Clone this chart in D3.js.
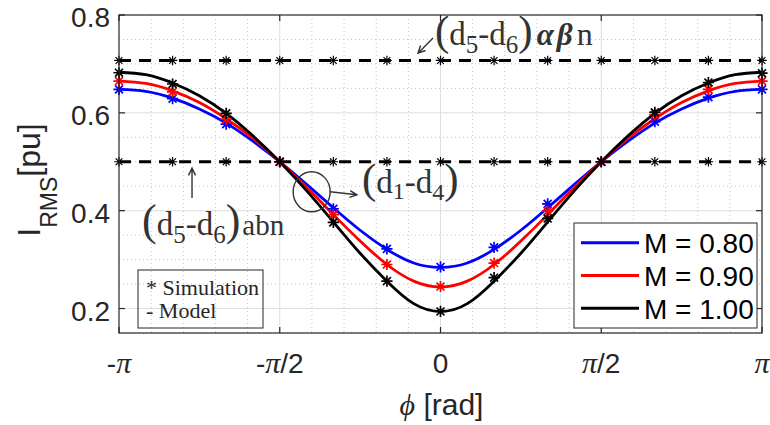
<!DOCTYPE html>
<html>
<head>
<meta charset="utf-8">
<script src="https://cdn.jsdelivr.net/npm/d3@7"></script>
<style>
  body { margin: 0; background: #ffffff; }
  svg { display: block; }
</style>
</head>
<body>
<script>
// ---- data -------------------------------------------------------------
// model curves are sampled every π/12, simulation points every π/6
const modelSteps = [-12,-11,-10,-9,-8,-7,-6,-5,-4,-3,-2,-1,0,1,2,3,4,5,6,7,8,9,10,11,12];   // × π/12
const simSteps   = [-6,-5,-4,-3,-2,-1,0,1,2,3,4,5,6];                                        // × π/6

const seriesNames  = ["M = 0.80", "M = 0.90", "M = 1.00"];
const seriesColors = ["#0000ff", "#ff0000", "#000000"];

const modelM080 = [0.648,0.644,0.630,0.608,0.579,0.542,0.500,0.454,0.406,0.360,0.321,0.293,0.284,
                   0.293,0.321,0.360,0.406,0.454,0.500,0.542,0.579,0.608,0.630,0.644,0.648];
const modelM090 = [0.665,0.660,0.645,0.621,0.588,0.548,0.500,0.448,0.392,0.338,0.290,0.256,0.244,
                   0.256,0.290,0.338,0.392,0.448,0.500,0.548,0.588,0.621,0.645,0.660,0.665];
const modelM100 = [0.683,0.678,0.661,0.635,0.599,0.553,0.500,0.441,0.377,0.313,0.256,0.210,0.194,
                   0.210,0.256,0.313,0.377,0.441,0.500,0.553,0.599,0.635,0.661,0.678,0.683];

const simM080 = [0.648,0.629,0.577,0.500,0.404,0.322,0.285,0.325,0.414,0.500,0.582,0.632,0.648];
const simM090 = [0.665,0.643,0.587,0.500,0.392,0.290,0.245,0.293,0.399,0.500,0.596,0.648,0.665];
const simM100 = [0.682,0.659,0.599,0.500,0.376,0.256,0.194,0.263,0.384,0.500,0.601,0.662,0.681];

// reference levels of the faulty-leg cases (dashed)
const refLevels = [0.7071, 0.5];

const yTicks      = [0.2, 0.4, 0.6, 0.8];
const xTickSteps  = [-2, -1, 0, 1, 2];            // × π/2
const xTickLabels = ["-π", "-π/2", "0", "π/2", "π"];

const modelSeries = [modelM080, modelM090, modelM100];
const simSeries   = [simM080, simM090, simM100];

// ---- layout -------------------------------------------------------------
const W = 770, H = 425;
const plot = { left: 119, top: 15, right: 762, bottom: 333 };
const SANS = "'Liberation Sans', Arial, Helvetica, sans-serif";
const SERIF = "'Liberation Serif', 'Times New Roman', serif";
const AXIS = "#262626";

const x = d3.scaleLinear().domain([-Math.PI, Math.PI]).range([plot.left, plot.right]);
const y = d3.scaleLinear().domain([0.15, 0.8]).range([plot.bottom, plot.top]);

const svg = d3.select("body").append("svg")
  .attr("width", W).attr("height", H)
  .attr("viewBox", `0 0 ${W} ${H}`);

// ---- grid -------------------------------------------------------------
const grid = svg.append("g");
const minorX = d3.range(-10, 11).filter(k => k % 5 !== 0).map(k => k * Math.PI / 10);
const minorY = d3.range(0.15, 0.8001, 0.05).filter(v => Math.abs(v * 5 - Math.round(v * 5)) > 1e-6);
const majorX = xTickSteps.map(k => k * Math.PI / 2).filter(v => Math.abs(v) < Math.PI - 1e-6);
const majorY = yTicks.filter(v => v < 0.8 - 1e-6);

grid.selectAll(".mx").data(minorX).join("line")
  .attr("x1", d => x(d)).attr("x2", d => x(d))
  .attr("y1", plot.top).attr("y2", plot.bottom)
  .attr("stroke", "#c4c4c4").attr("stroke-width", 1).attr("stroke-dasharray", "1,3");
grid.selectAll(".my").data(minorY).join("line")
  .attr("x1", plot.left).attr("x2", plot.right)
  .attr("y1", d => y(d)).attr("y2", d => y(d))
  .attr("stroke", "#c4c4c4").attr("stroke-width", 1).attr("stroke-dasharray", "1,3");
grid.selectAll(".gx").data(majorX).join("line")
  .attr("x1", d => x(d)).attr("x2", d => x(d))
  .attr("y1", plot.top).attr("y2", plot.bottom)
  .attr("stroke", "#dedede").attr("stroke-width", 1);
grid.selectAll(".gy").data(majorY).join("line")
  .attr("x1", plot.left).attr("x2", plot.right)
  .attr("y1", d => y(d)).attr("y2", d => y(d))
  .attr("stroke", "#dedede").attr("stroke-width", 1);

// asterisk marker path
function star(r) {
  const d = r * 0.7071;
  return `M${-r},0L${r},0M0,${-r}L0,${r}M${-d},${-d}L${d},${d}M${-d},${d}L${d},${-d}`;
}

// ---- dashed reference levels with their simulation points ---------------
const refG = svg.append("g");
refLevels.forEach(level => {
  refG.append("line")
    .attr("x1", x(-Math.PI)).attr("x2", x(Math.PI))
    .attr("y1", y(level)).attr("y2", y(level))
    .attr("stroke", "#000").attr("stroke-width", 3).attr("stroke-dasharray", "12,8");
  refG.selectAll(null).data(simSteps).join("path")
    .attr("transform", k => `translate(${x(k * Math.PI / 6)},${y(level)})`)
    .attr("d", star(4.8))
    .attr("fill", "none").attr("stroke", "#000").attr("stroke-width", 1.2);
});

// ---- model curves ---------------------------------------------------------
const line = d3.line()
  .x((d, i) => x(modelSteps[i] * Math.PI / 12))
  .y(d => y(d))
  .curve(d3.curveNatural);

const curves = svg.append("g");
modelSeries.forEach((vals, s) => {
  curves.append("path")
    .attr("d", line(vals))
    .attr("fill", "none")
    .attr("stroke", seriesColors[s])
    .attr("stroke-width", 2.8);
});

// ---- simulation markers -------------------------------------------------
simSeries.forEach((vals, s) => {
  curves.selectAll(null).data(vals).join("path")
    .attr("transform", (d, i) => `translate(${x(simSteps[i] * Math.PI / 6)},${y(d)})`)
    .attr("d", star(5.6))
    .attr("fill", "none")
    .attr("stroke", seriesColors[s])
    .attr("stroke-width", 1.7);
});

// ---- axes box and ticks -------------------------------------------------
const axes = svg.append("g");
axes.append("rect")
  .attr("x", plot.left).attr("y", plot.top)
  .attr("width", plot.right - plot.left).attr("height", plot.bottom - plot.top)
  .attr("fill", "none").attr("stroke", AXIS).attr("stroke-width", 1.2);

const tl = 6;
xTickSteps.forEach(k => {
  const px = x(k * Math.PI / 2);
  axes.append("line").attr("x1", px).attr("x2", px).attr("y1", plot.bottom).attr("y2", plot.bottom - tl)
    .attr("stroke", AXIS).attr("stroke-width", 1.2);
  axes.append("line").attr("x1", px).attr("x2", px).attr("y1", plot.top).attr("y2", plot.top + tl)
    .attr("stroke", AXIS).attr("stroke-width", 1.2);
});
yTicks.forEach(v => {
  const py = y(v);
  axes.append("line").attr("x1", plot.left).attr("x2", plot.left + tl).attr("y1", py).attr("y2", py)
    .attr("stroke", AXIS).attr("stroke-width", 1.2);
  axes.append("line").attr("x1", plot.right).attr("x2", plot.right - tl).attr("y1", py).attr("y2", py)
    .attr("stroke", AXIS).attr("stroke-width", 1.2);
});

// y tick labels
axes.selectAll(".yl").data(yTicks).join("text")
  .attr("x", plot.left - 9).attr("y", d => y(d) + 12)
  .attr("text-anchor", "end")
  .attr("font-family", SANS).attr("font-size", 28).attr("fill", AXIS)
  .text(d => d.toFixed(1));

// x tick labels: π set in a serif face, the rest in sans
xTickSteps.forEach((k, i) => {
  const t = axes.append("text")
    .attr("x", x(k * Math.PI / 2)).attr("y", 373)
    .attr("text-anchor", "middle")
    .attr("font-family", SANS).attr("font-size", 28).attr("fill", AXIS);
  xTickLabels[i].split(/(π)/).filter(p => p.length).forEach(p => {
    const ts = t.append("tspan").text(p);
    if (p === "π") ts.attr("font-family", SERIF).attr("font-style", "italic").attr("font-size", 30);
  });
});

// axis titles
const xt = svg.append("text")
  .attr("x", (plot.left + plot.right) / 2 + 1).attr("y", 415)
  .attr("text-anchor", "middle")
  .attr("font-family", SANS).attr("font-size", 30).attr("fill", AXIS);
xt.append("tspan").attr("font-family", SERIF).attr("font-style", "italic").text("ϕ");
xt.append("tspan").text(" [rad]");

const yt = svg.append("text")
  .attr("transform", `translate(40,${(plot.top + plot.bottom) / 2 + 6}) rotate(-90)`)
  .attr("text-anchor", "middle")
  .attr("font-family", SANS).attr("font-size", 32).attr("fill", AXIS);
yt.append("tspan").text("I");
yt.append("tspan").attr("font-size", 23).attr("dy", 17).text("RMS");
yt.append("tspan").attr("dy", -17).text("[pu]");

// ---- legends --------------------------------------------------------------
const leg = svg.append("g");
leg.append("rect")
  .attr("x", 574).attr("y", 223).attr("width", 183).attr("height", 105)
  .attr("fill", "#fff").attr("stroke", AXIS).attr("stroke-width", 1);
seriesNames.forEach((name, s) => {
  const ry = 242.7 + s * 32.8;
  leg.append("line").attr("x1", 581).attr("x2", 639).attr("y1", ry).attr("y2", ry)
    .attr("stroke", seriesColors[s]).attr("stroke-width", 3);
  leg.append("text").attr("x", 644).attr("y", ry + 10.6)
    .attr("font-family", SANS).attr("font-size", 28).attr("fill", "#000")
    .text(name);
});

const note = svg.append("g");
note.append("rect")
  .attr("x", 138).attr("y", 270).attr("width", 125).attr("height", 58)
  .attr("fill", "none").attr("stroke", AXIS).attr("stroke-width", 1);
note.append("text").attr("x", 146).attr("y", 295)
  .attr("font-family", SERIF).attr("font-size", 22).attr("fill", AXIS).text("* Simulation");
note.append("text").attr("x", 146).attr("y", 318)
  .attr("font-family", SERIF).attr("font-size", 22).attr("fill", AXIS).text("- Model");

// ---- annotations (placed in data coordinates) ---------------------------
const ANN = "#333333";
const ann = svg.append("g");

function richText(px, py, parts) {
  const t = ann.append("text").attr("x", px).attr("y", py)
    .attr("font-family", SERIF).attr("fill", ANN);
  parts.forEach(p => {
    const ts = t.append("tspan").attr("font-size", p.s).text(p.t);
    if (p.dy) ts.attr("dy", p.dy);
    if (p.dx) ts.attr("dx", p.dx);
    if (p.w) ts.attr("font-weight", p.w);
    if (p.st) ts.attr("font-style", p.st);
  });
  return t;
}

function arrow(x1, y1, x2, y2) {
  const a = Math.atan2(y2 - y1, x2 - x1), L = 8, spread = 0.45;
  ann.append("path")
    .attr("d", `M${x1},${y1}L${x2},${y2}` +
      `M${x2 - L * Math.cos(a - spread)},${y2 - L * Math.sin(a - spread)}L${x2},${y2}` +
      `L${x2 - L * Math.cos(a + spread)},${y2 - L * Math.sin(a + spread)}`)
    .attr("fill", "none").attr("stroke", ANN).attr("stroke-width", 1.4);
}

// (d5-d6) αβn, pointing at the upper dashed level
richText(x(-0.054), y(0.739), [
  { t: "(", s: 43 }, { t: "d", s: 33 }, { t: "5", s: 25, dy: 8 }, { t: "-", s: 33, dy: -8 },
  { t: "d", s: 33 }, { t: "6", s: 25, dy: 8 }, { t: ")", s: 43, dy: -8 },
  { t: "α", s: 31, w: "bold", st: "italic", dx: 4 }, { t: "β", s: 31, w: "bold", st: "italic", dx: 3 },
  { t: "n", s: 32, dx: 4 }
]);
arrow(x(-0.073), y(0.753), x(-0.22), y(0.722));

// (d5-d6) abn, pointing at the lower dashed level
richText(x(-2.917), y(0.350), [
  { t: "(", s: 44 }, { t: "d", s: 33 }, { t: "5", s: 25, dy: 8 }, { t: "-", s: 33, dy: -8 },
  { t: "d", s: 33 }, { t: "6", s: 25, dy: 8 }, { t: ")", s: 44, dy: -8 },
  { t: "abn", s: 29, dx: 2 }
]);
arrow(x(-2.428), y(0.426), x(-2.428), y(0.487));

// (d1-d4), circled crossing on the descending flank
ann.append("ellipse")
  .attr("cx", x(-1.259)).attr("cy", y(0.4387)).attr("rx", 18.5).attr("ry", 20)
  .attr("fill", "none").attr("stroke", ANN).attr("stroke-width", 1.4);
arrow(x(-1.080), y(0.4386), x(-0.816), y(0.4325));
richText(x(-0.767), y(0.4356), [
  { t: "(", s: 43 }, { t: "d", s: 33 }, { t: "1", s: 24, dy: 6 }, { t: "-", s: 33, dy: -6 },
  { t: "d", s: 33 }, { t: "4", s: 24, dy: 7 }, { t: ")", s: 43, dy: -7 }
]);
</script>
</body>
</html>
